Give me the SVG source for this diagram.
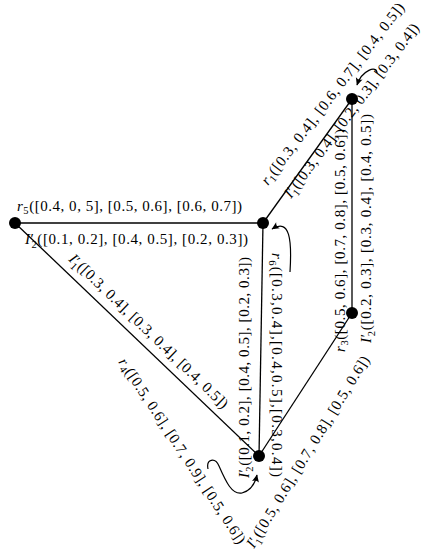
<svg xmlns="http://www.w3.org/2000/svg" width="422" height="556" viewBox="0 0 422 556">
<style>
.e{stroke:#000;stroke-width:1.3;fill:none}
.a{stroke:#000;stroke-width:1.2;fill:none;marker-end:url(#ah)}
.n{fill:#000}
.t{font-family:"Liberation Serif",serif;font-size:15px;fill:#000}
.it{font-style:italic}
.sb{font-size:10.5px}
</style>
<defs>
<marker id="ah" viewBox="-8 -4 9 8" refX="0" refY="0" markerWidth="9" markerHeight="8" orient="auto" markerUnits="userSpaceOnUse">
<path d="M0.5,0 L-7,-3.5 Q-4.5,0 -7,3.5 Z" fill="#000"/>
</marker>
</defs>
<rect width="422" height="556" fill="#fff"/>
<g id="connectors">
<line class="e" x1="263" y1="223" x2="352" y2="99"/>
<line class="e" x1="352" y1="99" x2="352" y2="313"/>
<line class="e" x1="15" y1="223" x2="263" y2="223"/>
<line class="e" x1="15" y1="223" x2="259" y2="456"/>
<line class="e" x1="263" y1="223" x2="259" y2="456"/>
<line class="e" x1="352" y1="313" x2="259" y2="456"/>
<path class="a" d="M377 73 C377 65, 362 70, 357 85"/>
<path class="a" d="M290 272 C292 240, 290 218, 272 229"/>
<path class="a" d="M208 469 C206 459, 215 457, 219 466 C226 482, 232 495, 242 493 C250 491, 255 484, 257 475"/>
</g>
<g id="labels">
<text class="t" x="17" y="211" textLength="225" lengthAdjust="spacing"><tspan class="it">r</tspan><tspan class="sb" dy="3">5</tspan><tspan dy="-3">([0.4, 0, 5], [0.5, 0.6], [0.6, 0.7])</tspan></text>
<text class="t" x="25" y="244" textLength="223" lengthAdjust="spacing"><tspan class="it">I</tspan><tspan>′</tspan><tspan class="sb" dx="-3" dy="4">2</tspan><tspan dy="-4">([0.1, 0.2], [0.4, 0.5], [0.2, 0.3])</tspan></text>
<text class="t" transform="translate(268 186) rotate(-52.5)" textLength="225" lengthAdjust="spacing"><tspan class="it">r</tspan><tspan class="sb" dy="3">1</tspan><tspan dy="-3">([0.3, 0.4], [0.6, 0.7], [0.4, 0.5])</tspan></text>
<text class="t" transform="translate(291 199) rotate(-53)" textLength="214" lengthAdjust="spacing"><tspan class="it">I</tspan><tspan>′</tspan><tspan class="sb" dx="-3" dy="4">1</tspan><tspan dy="-4">([0.3, 0.4], [0.2, 0.3], [0.3, 0.4])</tspan></text>
<text class="t" transform="translate(345 352) rotate(-90)" textLength="223" lengthAdjust="spacing"><tspan class="it">r</tspan><tspan class="sb" dy="3">3</tspan><tspan dy="-3">([0.5, 0.6], [0.7, 0.8], [0.5, 0.6])</tspan></text>
<text class="t" transform="translate(371 343) rotate(-90)" textLength="229" lengthAdjust="spacing"><tspan class="it">I</tspan><tspan>′</tspan><tspan class="sb" dx="-3" dy="4">2</tspan><tspan dy="-4">([0.2, 0.3], [0.3, 0.4], [0.4, 0.5])</tspan></text>
<text class="t" transform="translate(254 549) rotate(-58.5)" textLength="222" lengthAdjust="spacing"><tspan class="it">I</tspan><tspan>′</tspan><tspan class="sb" dx="-3" dy="4">1</tspan><tspan dy="-4">([0.5, 0.6], [0.7, 0.8], [0.5, 0.6])</tspan></text>
<text class="t" transform="translate(249 478) rotate(-90)" textLength="221" lengthAdjust="spacing"><tspan class="it">I</tspan><tspan>′</tspan><tspan class="sb" dx="-3" dy="4">2</tspan><tspan dy="-4">([0.1, 0.2], [0.4, 0.5], [0.2, 0.3])</tspan></text>
<text class="t" transform="translate(272 253) rotate(90)" textLength="224" lengthAdjust="spacing"><tspan class="it">r</tspan><tspan class="sb" dy="3">6</tspan><tspan dy="-3">([0.3,0.4],[0.4,0.5],[0.3,0.4])</tspan></text>
<text class="t" transform="translate(68 260) rotate(44)" textLength="215" lengthAdjust="spacing"><tspan class="it">I</tspan><tspan>′</tspan><tspan class="sb" dx="-3" dy="4">1</tspan><tspan dy="-4">([0.3, 0.4], [0.3, 0.4], [0.4, 0.5])</tspan></text>
<text class="t" transform="translate(118 362) rotate(56.7)" textLength="219" lengthAdjust="spacing"><tspan class="it">r</tspan><tspan class="sb" dy="3">4</tspan><tspan dy="-3">([0.5, 0.6], [0.7, 0.9], [0.5, 0.6])</tspan></text>
</g>
<g id="node-top"><circle class="n" cx="352" cy="99" r="6"/></g>
<g id="node-mid"><circle class="n" cx="263" cy="223" r="6"/></g>
<g id="node-left"><circle class="n" cx="15" cy="223" r="6"/></g>
<g id="node-right"><circle class="n" cx="352" cy="313" r="6"/></g>
<g id="node-bottom"><circle class="n" cx="259" cy="456" r="6"/></g>
</svg>
